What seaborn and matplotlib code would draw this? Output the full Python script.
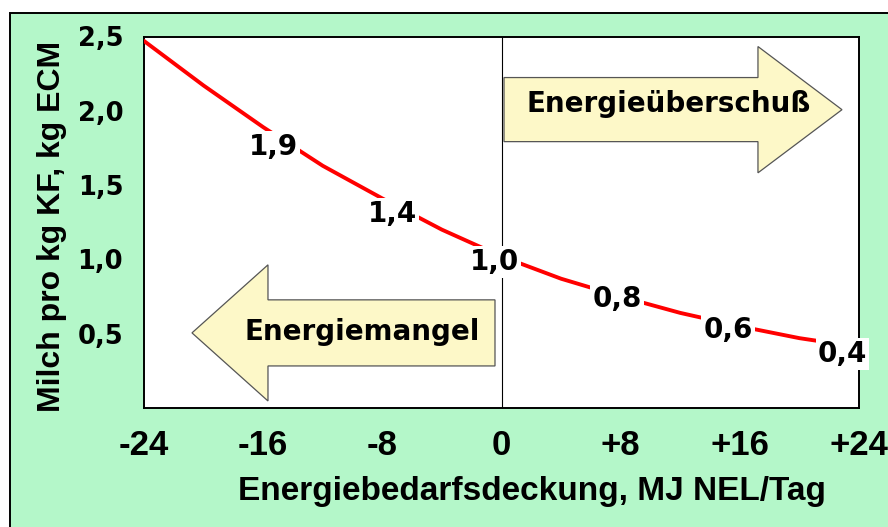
import matplotlib
matplotlib.use("Agg")
import matplotlib.pyplot as plt
from matplotlib.patches import Polygon, Rectangle
import seaborn as sns
import pandas as pd

# ---- data ----
energy_balance = [-24, -20, -16, -12, -8, -4, 0, 4, 8, 12, 16, 20, 22]
milk_per_kg_kf = [2.47, 2.17, 1.89, 1.63, 1.41, 1.20, 1.02, 0.87, 0.75, 0.64, 0.55, 0.47, 0.44]

point_labels = ["1,9", "1,4", "1,0", "0,8", "0,6", "0,4"]
point_label_x = [-15.3, -7.35, -0.45, 7.75, 15.2, 22.9]
point_label_y = [1.70, 1.25, 0.927, 0.679, 0.470, 0.309]

x_ticks = [-24, -16, -8, 0, 8, 16, 24]
x_ticklabels = ["-24", "-16", "-8", "0", "+8", "+16", "+24"]
y_ticks = [0.5, 1.0, 1.5, 2.0, 2.5]
y_ticklabels = ["0,5", "1,0", "1,5", "2,0", "2,5"]

x_title = "Energiebedarfsdeckung, MJ NEL/Tag"
y_title = "Milch pro kg KF, kg ECM"
arrow_right_text = "Energieüberschuß"
arrow_left_text = "Energiemangel"

df = pd.DataFrame({"x": energy_balance, "y": milk_per_kg_kf})

sns.set_theme(style="white")
plt.rcParams["font.family"] = ["Liberation Sans", "DejaVu Sans"]

GREEN = "#b4f7c9"
CREAM = "#fdf8c8"

fig = plt.figure(figsize=(8.88, 5.27), dpi=100, facecolor="white")
# outer green panel with black frame
fig.patches.append(Rectangle((10 / 888, -0.02), 1.0, 1 - 13 / 527 + 0.02,
                             transform=fig.transFigure, facecolor=GREEN,
                             edgecolor="black", linewidth=1.4, zorder=-10))

ax = fig.add_axes([144 / 888, (527 - 408) / 527, 715 / 888, 371.5 / 527])
ax.set_zorder(1)
ax.set_facecolor("white")

sns.lineplot(data=df, x="x", y="y", ax=ax, color="#ff0000", linewidth=2.8,
             zorder=3, legend=False)
ax.axvline(0, color="black", linewidth=0.8, zorder=2)

ax.set_xlim(-24, 24)
ax.set_ylim(0, 2.5)
ax.set_xticks(x_ticks)
ax.set_xticklabels(x_ticklabels)
ax.set_yticks(y_ticks)
ax.set_yticklabels(y_ticklabels)
ax.tick_params(axis="both", direction="out", length=6, width=1.1,
               color="black", labelcolor="black")
ax.tick_params(axis="x", pad=9, labelsize=25)
ax.tick_params(axis="y", pad=9, labelsize=18.5)
for lab in ax.get_xticklabels():
    lab.set_fontweight("bold")
    lab.set_family(["Liberation Sans", "DejaVu Sans"])
for lab in ax.get_yticklabels():
    lab.set_fontweight("bold")
    lab.set_family(["DejaVu Sans"])
for s in ax.spines.values():
    s.set_color("black")
    s.set_linewidth(1.4)
    s.set_visible(True)

ax.set_xlabel(x_title, fontsize=24, fontweight="bold", color="black")
ax.set_ylabel(y_title, fontsize=23, fontweight="bold", color="black")
ax.xaxis.set_label_coords(0.543, -0.182)
ax.yaxis.set_label_coords(-0.108, 0.49)

# value labels on the curve
for t, lx, ly in zip(point_labels, point_label_x, point_label_y):
    ax.text(lx, ly, t, ha="center", va="baseline", fontsize=20,
            fontweight="bold", family=["DejaVu Sans"], color="black",
            zorder=5,
            bbox=dict(facecolor="white", edgecolor="none", pad=1.5))

# arrows (axes fraction)
right_arrow = [(0.5035, 0.717), (0.8587, 0.717), (0.8587, 0.633),
               (0.9762, 0.803), (0.8587, 0.973), (0.8587, 0.8895),
               (0.5035, 0.8895)]
left_arrow = [(0.4909, 0.1132), (0.1734, 0.1132), (0.1734, 0.0189),
              (0.0671, 0.2022), (0.1734, 0.3854), (0.1734, 0.2911),
              (0.4909, 0.2911)]
for pts in (right_arrow, left_arrow):
    ax.add_patch(Polygon(pts, closed=True, transform=ax.transAxes,
                         facecolor=CREAM, edgecolor="#555555",
                         linewidth=0.9, zorder=4))

ax.text(0.734, 0.798, arrow_right_text, transform=ax.transAxes, ha="center",
        va="baseline", fontsize=20, fontweight="bold",
        family=["DejaVu Sans"], color="black", zorder=6)
ax.text(0.305, 0.183, arrow_left_text, transform=ax.transAxes, ha="center",
        va="baseline", fontsize=20, fontweight="bold",
        family=["DejaVu Sans"], color="black", zorder=6)

fig.savefig("out.png", dpi=100, facecolor=fig.get_facecolor())
